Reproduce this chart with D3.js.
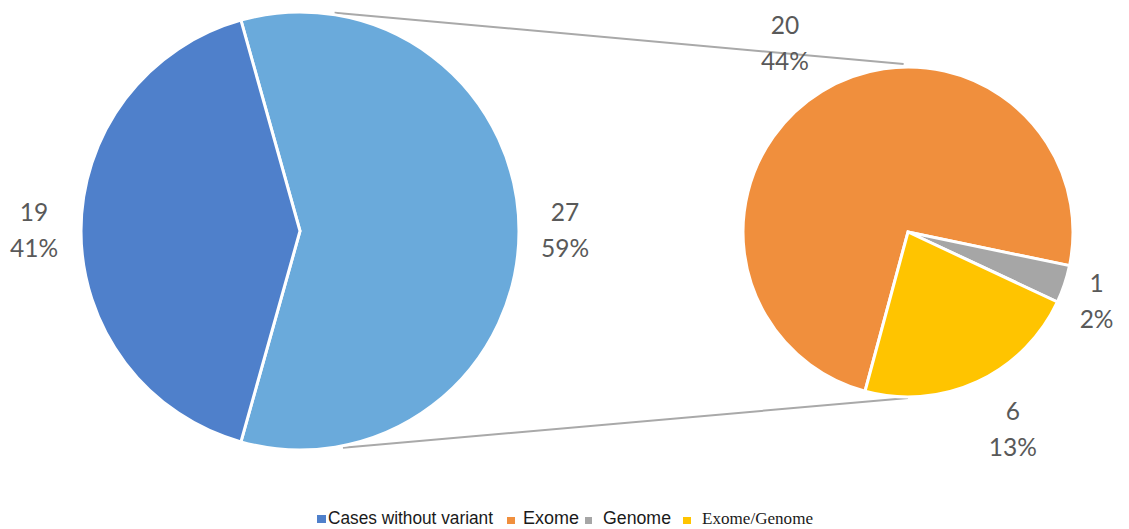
<!DOCTYPE html>
<html>
<head>
<meta charset="utf-8">
<script src="https://cdn.jsdelivr.net/npm/d3@7"></script>
<style>
  html, body { margin: 0; padding: 0; background: #fff; }
  svg { display: block; }
</style>
</head>
<body>
<svg id="chart" width="1129" height="529"></svg>
<script>
// ---- data ----
const mainCategories = ["Cases with variant", "Cases without variant"];
const mainValues = [27, 19];
const mainPercents = ["59%", "41%"];

const subCategories = ["Exome", "Genome", "Exome/Genome"];
const subValues = [20, 1, 6];
const subPercents = ["44%", "2%", "13%"];

const legendLabels = ["Cases without variant", "Exome", "Genome", "Exome/Genome"];

// ---- layout / style ----
const W = 1129, H = 529;
const svg = d3.select("#chart");
const deg = Math.PI / 180;

const mainColors = ["#6aaadb", "#4f80cb"];
const subColors = ["#f08f3d", "#a6a6a6", "#ffc400"];
const labelColor = "#595959";

const main = { cx: 300, cy: 231, r: 219 };
const sub = { cx: 908, cy: 232, r: 165 };

// connector lines (drawn first, behind pies)
function polar(c, angDeg, rr) {
  const a = angDeg * deg;
  return [c.cx + rr * Math.sin(a), c.cy - rr * Math.cos(a)];
}
const conn = [
  [polar(main, 9, main.r + 2), polar(sub, -1.5, sub.r + 3)],
  [polar(main, 168.8, main.r + 2), polar(sub, 180, sub.r + 1)]
];
svg.selectAll("line.conn").data(conn).enter().append("line")
  .attr("class", "conn")
  .attr("x1", d => d[0][0]).attr("y1", d => d[0][1])
  .attr("x2", d => d[1][0]).attr("y2", d => d[1][1])
  .attr("stroke", "#a9a9a9").attr("stroke-width", 2);

// main pie
const mainTotal = d3.sum(mainValues);
const mainSpan = mainValues[0] / mainTotal * 360;
const mainPie = d3.pie().sort(null)
  .startAngle((90 - mainSpan / 2) * deg)
  .endAngle((90 - mainSpan / 2 + 360) * deg);
const mainArcs = mainPie(mainValues);
const mainArc = d3.arc().innerRadius(0).outerRadius(main.r);

const gMain = svg.append("g").attr("transform", `translate(${main.cx},${main.cy})`);
gMain.selectAll("path").data(mainArcs).enter().append("path")
  .attr("d", mainArc)
  .attr("fill", (d, i) => mainColors[i])
  .attr("stroke", "#fff").attr("stroke-width", 3).attr("stroke-linejoin", "miter");

// sub pie
const subStart = 195.1;
const subPie = d3.pie().sort(null)
  .startAngle(subStart * deg)
  .endAngle((subStart + 360) * deg);
const subArcs = subPie(subValues);
const subArc = d3.arc().innerRadius(0).outerRadius(sub.r);

const gSub = svg.append("g").attr("transform", `translate(${sub.cx},${sub.cy})`);
gSub.selectAll("path").data(subArcs).enter().append("path")
  .attr("d", subArc)
  .attr("fill", (d, i) => subColors[i])
  .attr("stroke", "#fff").attr("stroke-width", 3).attr("stroke-linejoin", "miter");

// labels
function drawLabels(g, arcs, values, percents, dists, angleAdj) {
  arcs.forEach((a, i) => {
    const mid = (a.startAngle + a.endAngle) / 2 + (angleAdj[i] || 0) * deg;
    const x = dists[i] * Math.sin(mid);
    const y = -dists[i] * Math.cos(mid);
    const t = g.append("text")
      .attr("text-anchor", "middle")
      .attr("font-family", "Lato, 'Open Sans', sans-serif")
      .attr("font-size", 24.5)
      .attr("fill", labelColor);
    t.append("tspan").attr("x", x).attr("y", y - 10).text(values[i]);
    t.append("tspan").attr("x", x).attr("y", y + 26).text(percents[i]);
  });
}
drawLabels(gMain, mainArcs, mainValues, mainPercents, [265, 266], [0, 0]);
drawLabels(gSub, subArcs, subValues, subPercents, [225, 201, 224], [-1.6, 1.8, -3]);

// legend
const legendItems = [
  { label: legendLabels[0], color: mainColors[1], sq: [317, 515, 9, 8], tx: 328, font: "Liberation Sans, Arial, sans-serif", size: 17.5, len: 165 },
  { label: legendLabels[1], color: subColors[0], sq: [507, 517, 8, 7], tx: 523, font: "Liberation Sans, Arial, sans-serif", size: 17.5, len: 56 },
  { label: legendLabels[2], color: subColors[1], sq: [585, 517, 7, 7], tx: 603, font: "Liberation Sans, Arial, sans-serif", size: 17.5, len: 68 },
  { label: legendLabels[3], color: subColors[2], sq: [683, 517, 8, 7], tx: 702, font: "Liberation Serif, 'Times New Roman', serif", size: 17, len: 111 }
];
const gLeg = svg.append("g");
legendItems.forEach(it => {
  gLeg.append("rect")
    .attr("x", it.sq[0]).attr("y", it.sq[1])
    .attr("width", it.sq[2]).attr("height", it.sq[3])
    .attr("fill", it.color);
  gLeg.append("text")
    .attr("x", it.tx).attr("y", 524)
    .attr("font-family", it.font)
    .attr("font-size", it.size)
    .attr("fill", "#1a1a1a")
    .attr("textLength", it.len)
    .attr("lengthAdjust", "spacingAndGlyphs")
    .text(it.label);
});
</script>
</body>
</html>
